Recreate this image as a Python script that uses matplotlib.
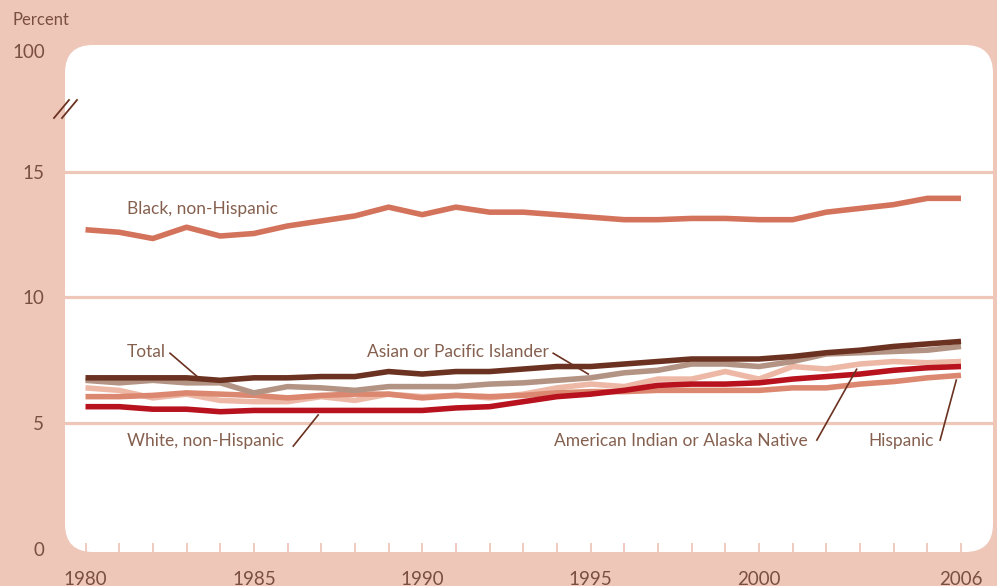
import matplotlib
matplotlib.use('Agg')
import matplotlib.pyplot as plt
from matplotlib.patches import FancyBboxPatch
import numpy as np

# low birthweight, percent of live births
years = list(range(1980, 2007))
black = [12.7, 12.6, 12.35, 12.8, 12.45, 12.55, 12.85, 13.05, 13.25, 13.6, 13.3, 13.6, 13.4, 13.4,
         13.3, 13.2, 13.1, 13.1, 13.15, 13.15, 13.1, 13.1, 13.4, 13.55, 13.7, 13.95, 13.95]
total = [6.8, 6.8, 6.8, 6.8, 6.7, 6.8, 6.8, 6.85, 6.85, 7.05, 6.95, 7.05, 7.05, 7.15,
         7.25, 7.25, 7.35, 7.45, 7.55, 7.55, 7.55, 7.65, 7.8, 7.9, 8.05, 8.15, 8.25]
asian = [6.7, 6.6, 6.7, 6.6, 6.6, 6.2, 6.45, 6.4, 6.3, 6.45, 6.45, 6.45, 6.55, 6.6,
         6.7, 6.8, 7.0, 7.1, 7.35, 7.35, 7.25, 7.45, 7.75, 7.8, 7.85, 7.9, 8.05]
aian = [6.4, 6.3, 6.0, 6.15, 5.9, 5.85, 5.85, 6.05, 5.9, 6.15, 6.05, 6.1, 6.0, 6.15,
        6.4, 6.55, 6.45, 6.75, 6.75, 7.05, 6.75, 7.25, 7.15, 7.35, 7.45, 7.4, 7.45]
hispanic = [6.05, 6.05, 6.1, 6.2, 6.15, 6.1, 6.0, 6.1, 6.15, 6.15, 6.0, 6.1, 6.05, 6.1,
            6.2, 6.25, 6.25, 6.3, 6.3, 6.3, 6.3, 6.4, 6.4, 6.55, 6.65, 6.8, 6.9]
white = [5.65, 5.65, 5.55, 5.55, 5.45, 5.5, 5.5, 5.5, 5.5, 5.5, 5.5, 5.6, 5.65, 5.85,
         6.05, 6.15, 6.3, 6.5, 6.55, 6.55, 6.6, 6.75, 6.85, 6.95, 7.1, 7.2, 7.25]

ytick_vals = [0, 5, 10, 15]
xtick_labels = {1980: '1980', 1985: '1985', 1990: '1990', 1995: '1995', 2000: '2000', 2006: '2006'}

pink = '#eec7b9'
txt = '#7a4f40'
lbl = '#85604f'
lead = '#6b3221'
plt.rcParams['font.family'] = ['Lato', 'DejaVu Sans']

W, H = 997, 586
fig = plt.figure(figsize=(W / 100, H / 100), dpi=100)
fig.patch.set_facecolor(pink)

# background panel in pixel coords
bg = fig.add_axes([0, 0, 1, 1])
bg.set_xlim(0, W)
bg.set_ylim(H, 0)
bg.axis('off')
bg.add_patch(FancyBboxPatch((65 + 28, 45 + 28), 993 - 65 - 56, 552 - 45 - 56,
                            boxstyle='round,pad=28', fc='white', ec='none'))
bg.text(12, 20, 'Percent', fontsize=12, color=txt, va='center', ha='left')
bg.text(45, 52, '100', fontsize=13.5, color=txt, va='center', ha='right')
bg.plot([54, 69], [118, 100], color=lead, lw=1.3)
bg.plot([62, 77], [118, 100], color=lead, lw=1.3)

ax = fig.add_axes([65 / W, 1 - 552 / H, (993 - 65) / W, (552 - 45) / H])
ax.set_facecolor('none')
x0 = 1980 - (85.5 - 65) / 33.673
x1 = 2006 + (993 - 961) / 33.673
ax.set_xlim(x0, x1)
ax.set_ylim((548.5 - 552) / 25.1, (548.5 - 45) / 25.1)
for s in ax.spines.values():
    s.set_visible(False)

for v in ytick_vals[1:]:
    ax.axhline(v, color=pink, lw=2.3, zorder=1)

lw = 4
ax.plot(years, aian, color='#edb9a6', lw=lw, zorder=3, solid_capstyle='butt')
ax.plot(years, hispanic, color='#dc8870', lw=lw, zorder=3, solid_capstyle='butt')
ax.plot(years, asian, color='#b39484', lw=lw, zorder=4, solid_capstyle='butt')
ax.plot(years, white, color='#b7121e', lw=lw, zorder=4, solid_capstyle='butt')
ax.plot(years, total, color='#6b3221', lw=lw, zorder=5, solid_capstyle='butt')
ax.plot(years, black, color='#d4735b', lw=lw, zorder=5, solid_capstyle='butt')

ax.set_yticks(ytick_vals)
ax.set_yticklabels([str(v) for v in ytick_vals])
ax.tick_params(axis='y', length=0, pad=15, labelsize=13.5, labelcolor=txt)
ax.set_xticks(years)
ax.set_xticklabels([xtick_labels.get(y, '') for y in years])
ax.tick_params(axis='x', direction='in', length=6.5, width=1.3, color=pink,
               pad=13.5, labelsize=13.5, labelcolor=txt)

fs = 12.5
ax.text(1981.23, 13.53, 'Black, non-Hispanic', fontsize=fs, color=lbl, va='center')
ax.text(1981.23, 7.83, 'Total', fontsize=fs, color=lbl, va='center')
ax.text(1993.76, 7.83, 'Asian or Pacific Islander', fontsize=fs, color=lbl, va='center', ha='right')
ax.text(1981.23, 4.28, 'White, non-Hispanic', fontsize=fs, color=lbl, va='center')
ax.text(2001.46, 4.28, 'American Indian or Alaska Native', fontsize=fs, color=lbl, va='center', ha='right')
ax.text(2005.2, 4.28, 'Hispanic', fontsize=fs, color=lbl, va='center', ha='right')

leaders = [((1982.51, 7.78), (1983.30, 6.87)),
           ((1993.89, 7.78), (1994.93, 6.95)),
           ((1986.17, 4.08), (1986.91, 5.32)),
           ((2001.72, 4.32), (2002.90, 7.14)),
           ((2005.38, 4.32), (2005.86, 6.71))]
for (a, b) in leaders:
    ax.plot([a[0], b[0]], [a[1], b[1]], color=lead, lw=1.2, zorder=6)

fig.savefig('out.png', dpi=100, facecolor=pink)
